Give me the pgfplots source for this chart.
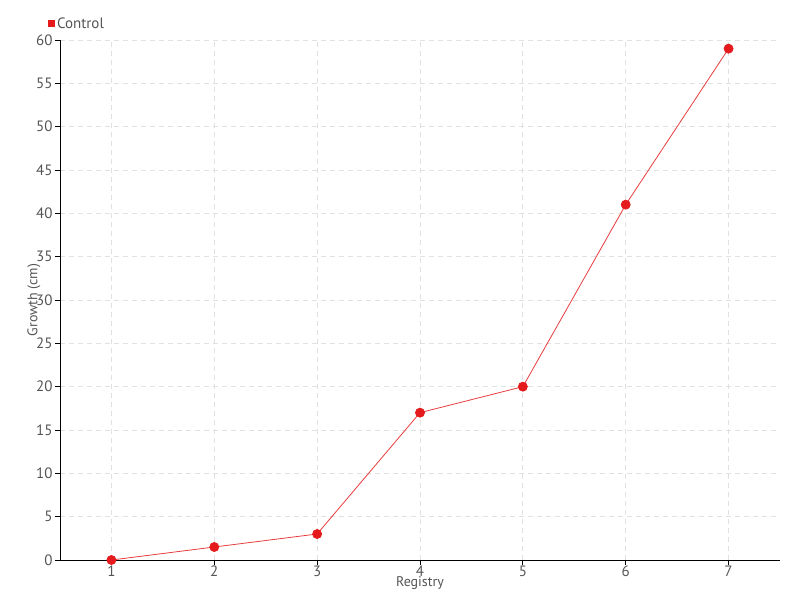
\documentclass[border=0pt]{standalone}
\usepackage{fontspec}
\setmainfont{PT Sans}
\usepackage{pgfplots}
\pgfplotsset{compat=1.18}
\definecolor{txt}{RGB}{85,85,85}
\definecolor{ser}{RGB}{228,26,28}
\definecolor{gridc}{RGB}{225,225,225}
\begin{document}
\begin{tikzpicture}[x=1pt,y=1pt]
\useasboundingbox (0,0) rectangle (800,600);
\begin{axis}[
  at={(60pt,40pt)}, anchor=south west,
  scale only axis, width=720pt, height=520pt,
  xmin=0.5, xmax=7.5, ymin=0, ymax=60,
  xtick={1,...,7}, ytick={0,5,...,60},
  axis x line*=bottom, axis y line*=left,
  axis line style={black, line width=0.8pt, -},
  tick style={black, line width=0.8pt},
  tick align=outside, major tick length=5pt,
  grid=major, grid style={gridc, dashed, dash pattern=on 5pt off 4pt, line width=0.8pt},
  tick label style={font=\fontsize{15}{15}\selectfont, text=txt},
  /pgf/number format/assume math mode=true,
  xticklabel style={yshift=3pt},
  yticklabel style={xshift=1pt},
  xlabel={Registry}, ylabel={Growth (cm)},
  label style={font=\fontsize{14}{14}\selectfont, text=txt},
  xlabel style={at={(axis description cs:0.5,0)}, anchor=north, yshift=-13pt},
  ylabel style={at={(axis description cs:0,0.5)}, anchor=south, xshift=0pt, yshift=16pt},
  legend style={at={(-12pt,528pt)}, anchor=south west, draw=none, fill=none,
    font=\fontsize{15}{15}\selectfont, text=txt, inner sep=0pt},
  legend image code/.code={\fill[ser] (0pt,-3pt) rectangle (6pt,3pt);},
  legend cell align=left,
  clip=false,
]
\addplot[color=ser!85, line width=0.8pt, mark=*, mark size=4.5pt,
  mark options={fill=ser, draw=ser}]
  coordinates {(1,0) (2,1.5) (3,3) (4,17) (5,20) (6,41) (7,59)};
\addlegendentry{Control}
\end{axis}
\end{tikzpicture}
\end{document}
